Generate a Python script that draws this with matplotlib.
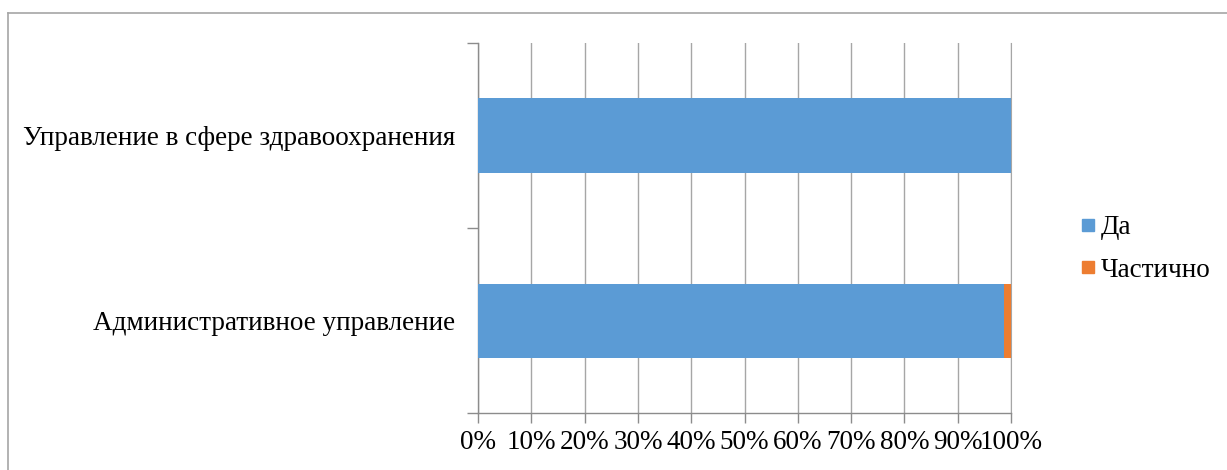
import numpy as np
import matplotlib.pyplot as plt
from matplotlib.lines import Line2D
from matplotlib.ticker import PercentFormatter

plt.rcParams['font.family'] = ['Liberation Serif', 'DejaVu Serif']

categories = ['Административное управление', 'Управление в сфере здравоохранения']
series = ['Да', 'Частично']
da = [98.6, 100.0]
partly = [1.4, 0.0]
colors = ['#5B9BD5', '#ED7D31']
xticks = np.arange(0, 101, 10)

W, H = 1227, 470
fs = 19.5
fig = plt.figure(figsize=(W / 100, H / 100), dpi=100)

# grey chart-area frame, only top and left visible (cropped)
fig.add_artist(Line2D([8 / W, 1], [1 - 13 / H, 1 - 13 / H], color='#A6A6A6', lw=1.2))
fig.add_artist(Line2D([8 / W, 8 / W], [0, 1 - 13 / H], color='#A6A6A6', lw=1.2))

ax = fig.add_axes([478 / W, 1 - 413 / H, (1011 - 478) / W, (413 - 43) / H])

y = np.arange(len(categories))
ax.barh(y, da, height=0.4, color=colors[0], zorder=3)
ax.barh(y, partly, left=da, height=0.4, color=colors[1], zorder=3)

ax.set_xlim(0, 100)
ax.set_ylim(-0.5, 1.5)
ax.set_xticks(xticks)
ax.xaxis.set_major_formatter(PercentFormatter(decimals=0))
ax.grid(axis='x', color='#A6A6A6', lw=1, zorder=0)

ax.set_yticks([-0.5, 0.5, 1.5])
ax.set_yticklabels([])
ax.set_yticks(y, minor=True)
ax.set_yticklabels(categories, minor=True, fontsize=fs)
ax.tick_params(axis='y', which='minor', length=0, pad=16.5)
ax.tick_params(axis='y', which='major', length=8, color='#8C8C8C', width=1)
ax.tick_params(axis='x', length=7, color='#8C8C8C', width=1, labelsize=fs, pad=5)

ax.spines['top'].set_visible(False)
ax.spines['right'].set_color('#A6A6A6')
for s in ['left', 'bottom']:
    ax.spines[s].set_color('#8C8C8C')
    ax.spines[s].set_linewidth(1)

handles = [Line2D([], [], marker='s', ls='', color=c, markersize=8) for c in colors]
ax.legend(handles, series, loc='center left', bbox_to_anchor=(1066 / W, 1 - 249 / H),
          bbox_transform=fig.transFigure, frameon=False, fontsize=fs,
          handlelength=0.6, handletextpad=0.2, labelspacing=0.65, borderpad=0)

fig.savefig('out.png', dpi=100)
